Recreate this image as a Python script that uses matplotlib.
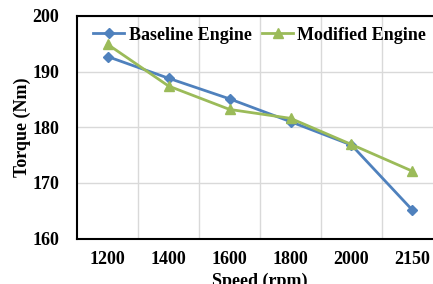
import matplotlib
matplotlib.use("Agg")
import matplotlib.pyplot as plt
import numpy as np

speeds = ["1200", "1400", "1600", "1800", "2000", "2150"]
baseline = [192.7, 188.8, 185.1, 181.0, 176.8, 165.1]
modified = [194.9, 187.4, 183.2, 181.6, 176.9, 172.1]

plt.rcParams["font.family"] = "Liberation Serif"
plt.rcParams["font.weight"] = "bold"

fig = plt.figure(figsize=(4.33, 2.84), dpi=100)
ax = fig.add_axes([0.178, 0.16, 0.845, 0.784])

x = np.arange(len(speeds))
ax.plot(x, baseline, color="#4F81BD", marker="D", markersize=5.5, linewidth=2,
        label="Baseline Engine")
ax.plot(x, modified, color="#9BBB59", marker="^", markersize=7, linewidth=2,
        label="Modified Engine")

ax.set_xlim(-0.5, len(speeds) - 0.5)
ax.set_ylim(160, 200)
ax.set_yticks([160, 170, 180, 190, 200])
ax.set_xticks(x)
ax.set_xticklabels(speeds)
ax.set_xticks(np.arange(0.5, len(speeds) - 0.5), minor=True)
ax.tick_params(axis="both", which="both", length=0, labelsize=13)
ax.tick_params(axis="x", pad=9)
ax.tick_params(axis="y", pad=13)
ax.grid(True, axis="y", color="#d9d9d9", linewidth=1)
ax.grid(True, axis="x", which="minor", color="#d9d9d9", linewidth=1)
ax.set_axisbelow(True)

for side in ["left", "bottom", "top"]:
    ax.spines[side].set_color("black")
    ax.spines[side].set_linewidth(1.5)
ax.spines["right"].set_visible(False)

ax.set_xlabel("Speed (rpm)", fontsize=13, fontweight="bold", labelpad=3)
ax.set_ylabel("Torque (Nm)", fontsize=13, fontweight="bold", labelpad=1)

ax.legend(loc="upper left", bbox_to_anchor=(0.0, 1.025), ncol=2, frameon=False,
          fontsize=13, handlelength=1.7, handletextpad=0.25, columnspacing=0.6)

fig.savefig("out.png", dpi=100)
